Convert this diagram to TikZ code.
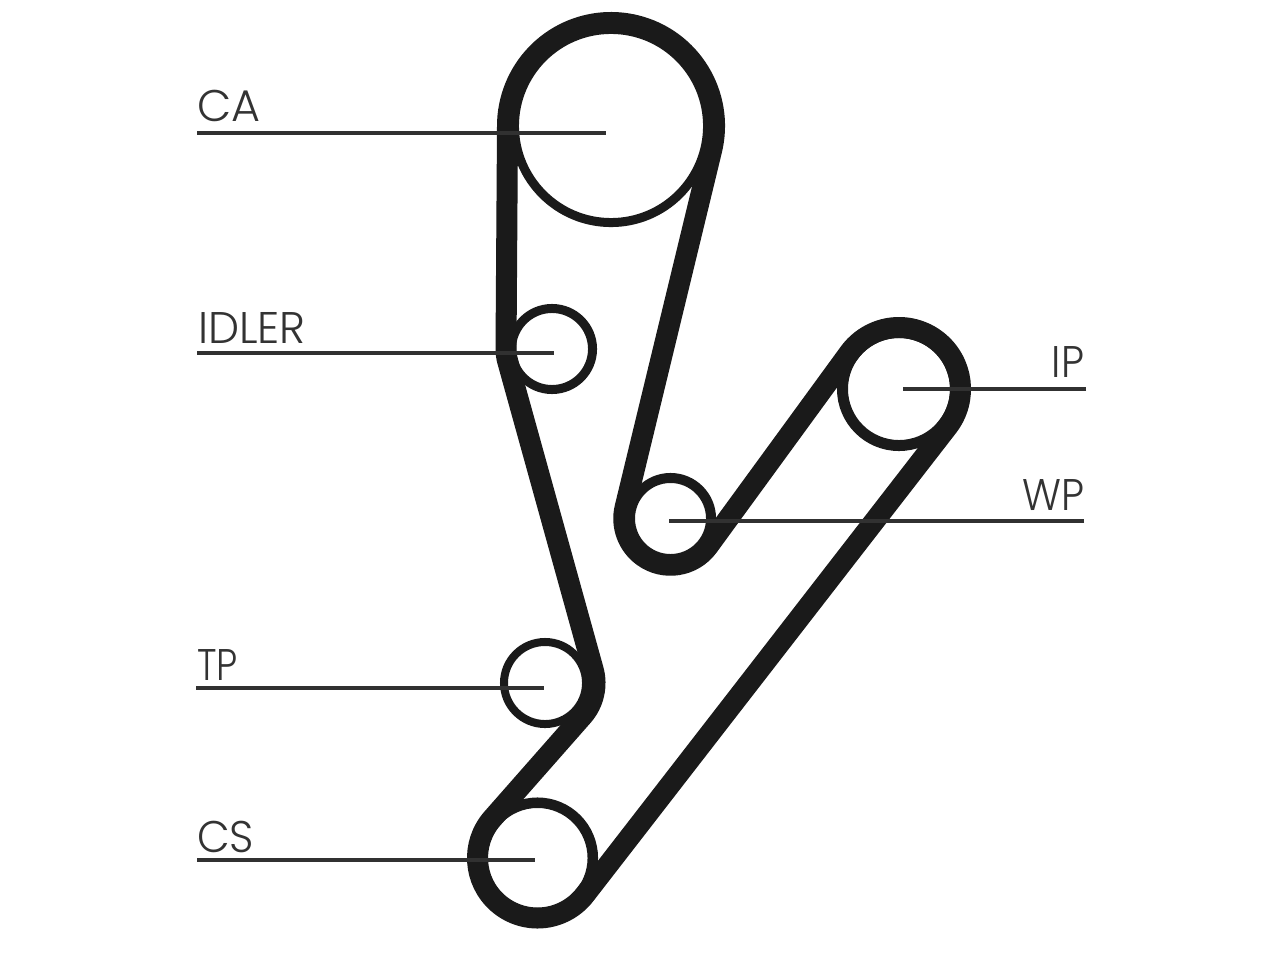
\documentclass[tikz,border=0pt]{standalone}
\usepackage{fontspec}
\setmainfont{Poppins Light}
\definecolor{beltblack}{HTML}{1A1A1A}
\definecolor{tagfg}{HTML}{333333}
\tikzset{
  belt/.style={draw=beltblack,line width=0.21cm,line join=round},
  pulley/.style={circle,draw=beltblack,fill=white,inner sep=0pt,outer sep=0pt},
  leader/.style={draw=beltblack!90!white,line width=0.04cm},
  tag/.style={inner sep=0pt,outer sep=0pt,text=tagfg,xscale=0.92,font=\fontsize{12.6}{14}\selectfont},
}
\begin{document}
\begin{tikzpicture}[x=0.01cm,y=0.01cm]
\useasboundingbox (0,0) rectangle (1280,960);
\fill [white] (0,0) rectangle (1280,960);

% pulleys (y counted from the bottom edge)
\node [pulley,line width=0.09cm,minimum size=1.93cm] (ca) at (611,834) {};
\node [pulley,line width=0.09cm,minimum size=0.81cm] (idler) at (552,611) {};
\node [pulley,line width=0.08cm,minimum size=0.82cm] (tp) at (545,277) {};
\node [pulley,line width=0.105cm,minimum size=1.105cm] (cs) at (537.5,102) {};
\node [pulley,line width=0.11cm,minimum size=1.13cm] (ip) at (899,571) {};
\node [pulley,line width=0.10cm,minimum size=0.81cm] (wp) at (670.5,441.5) {};

% the belt
\draw [belt] ([shift={(-13.6:103.5)}]ca.center) arc [start angle=-13.6,end angle=180,radius=103.5]
  -- ([shift={(180:46)}]idler.center) arc [start angle=180,end angle=195.5,radius=46]
  -- ([shift={(15.5:50)}]tp.center) arc [start angle=15.5,end angle=-41.35,radius=50]
  -- ([shift={(138.65:60)}]cs.center) arc [start angle=138.65,end angle=322.4,radius=60]
  -- ([shift={(-37.6:61.5)}]ip.center) arc [start angle=-37.6,end angle=143.8,radius=61.5]
  -- ([shift={(-36.2:46.75)}]wp.center) arc [start angle=-36.2,end angle=-193.6,radius=46.75]
  -- cycle;

% labels
\node [tag,xscale=1.09,anchor=base west] (catag) at (197,838) {CA};
\node [tag,xscale=1.08,anchor=base west] (idlertag) at (198,617) {IDLER};
\node [tag,xscale=0.92,anchor=base west] (tptag) at (197,280) {TP};
\node [tag,xscale=1.04,anchor=base west] (cstag) at (197,108) {CS};
\node [tag,anchor=base east] (iptag) at (1084,583) {IP};
\node [tag,anchor=base east] (wptag) at (1084,450) {WP};

% leader lines
\coordinate (caout) at (197,827);
\coordinate (caend) at (606,827);
\coordinate (idlerout) at (197,607);
\coordinate (idlerend) at (554,607);
\coordinate (tpout) at (196,272);
\coordinate (tpend) at (544,272);
\coordinate (csout) at (197,100);
\coordinate (csend) at (535,100);
\coordinate (ipout) at (1086,571);
\coordinate (ipend) at (903,571);
\coordinate (wpout) at (1084,439);
\coordinate (wpend) at (669,439);
\draw [leader] (caout) -- (caend);
\draw [leader] (idlerout) -- (idlerend);
\draw [leader] (tpout) -- (tpend);
\draw [leader] (csout) -- (csend);
\draw [leader] (ipout) -- (ipend);
\draw [leader] (wpout) -- (wpend);
\end{tikzpicture}
\end{document}
